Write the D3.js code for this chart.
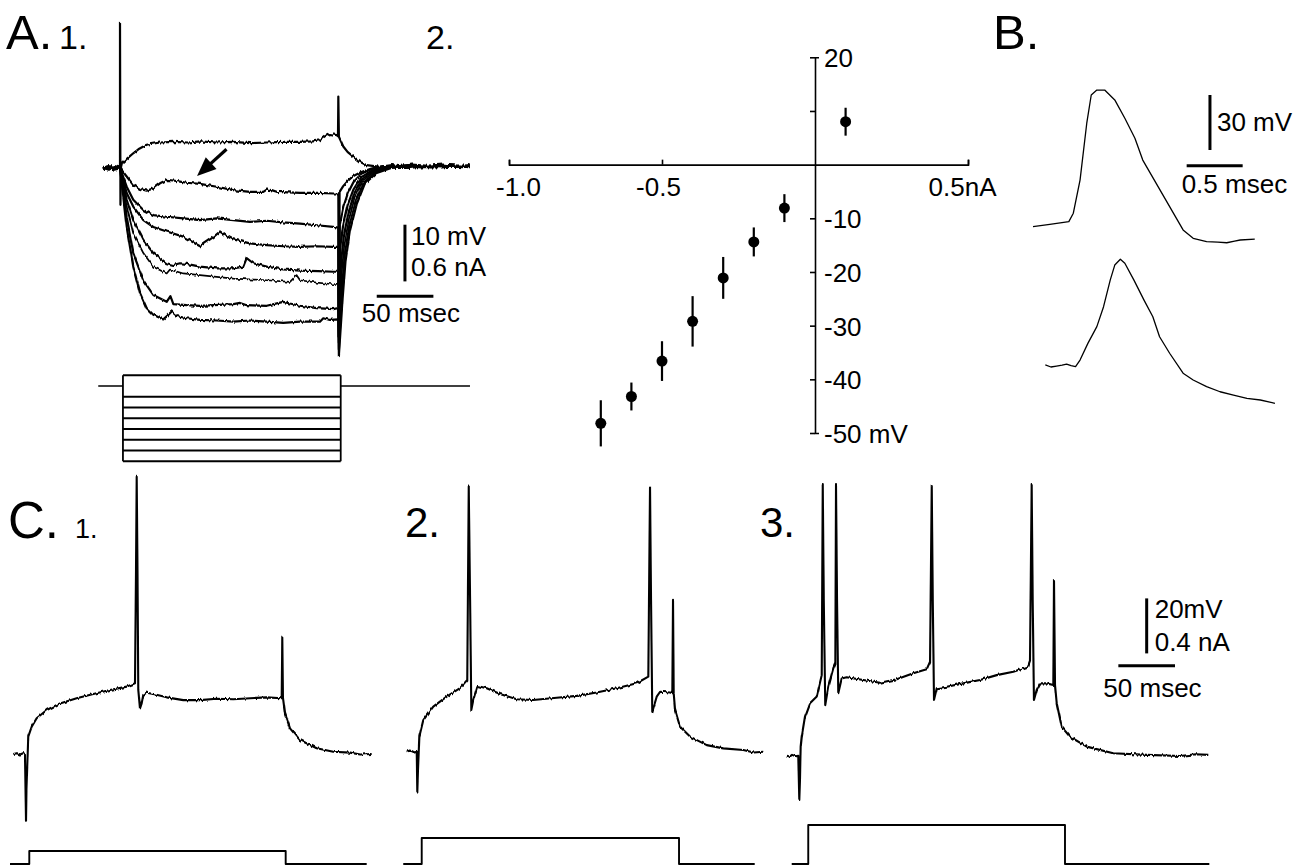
<!DOCTYPE html>
<html>
<head>
<meta charset="utf-8">
<script src="https://cdnjs.cloudflare.com/ajax/libs/d3/7.8.5/d3.min.js"></script>
<style>
  html, body { margin: 0; padding: 0; background: #fff; }
  svg { display: block; font-family: "Liberation Sans", Arial, sans-serif; }
  .trace { fill: none; stroke: #000; stroke-linejoin: round; }
</style>
</head>
<body>
<div id="fig"></div>
<script>
// ---------- A.1  voltage responses (ms, mV rel. rest) ----------
var aTop = [[-15,0],[-11,0.3],[-7,-0.2],[-3,0.2],[0,0],[0,25.6],[0.4,-6.5],[0.9,0],[1.8,0.8],[6,1.6],[11.7,2.6],[17,3.4],[23.5,4.1],[35.3,4.5],[47,4.6],[60,4.5],[70.6,4.7],[85,4.5],[99.7,4.6],[115,4.4],[129.5,4.5],[145,4.6],[158.9,4.6],[170,4.7],[176.5,4.9],[180.9,5.6],[185.3,6.0],[191.3,5.8],[192.4,5.6],[192.7,12.6],[193.2,5.5],[197.1,3.8],[201,2.8],[205.9,2.0],[211,1.2],[217.7,0.5],[229.5,0.2],[240,0.5],[247.1,0.3],[258,0.6],[270.7,0.4],[285,0.6],[297,0.3],[308.6,0.5]];
var aH1 = [[-15,-0.2],[-10,0.2],[-5,-0.3],[0,0],[5.9,-1.5],[11.7,-3.0],[17.7,-3.7],[23.6,-4.0],[29.4,-3.6],[35.3,-2.7],[41.2,-2.1],[47,-2.2],[52.9,-2.4],[58.8,-2.6],[70.6,-2.8],[85.4,-3.3],[100,-3.9],[114.8,-4.2],[126.5,-4.2],[129.5,-3.8],[133.9,-3.9],[138.3,-4.2],[158.9,-4.4],[175,-4.4],[188.3,-4.5],[192.7,-4.5],[193.2,-30],[193.8,-4.2],[197,-3.2],[201,-2.3],[206,-1.4],[213,-0.7],[222,-0.1],[232,0.3],[245,0.1],[260,0.4],[275,0.2],[290,0.5],[308.6,0.3]];
var aH2 = [[-15,0.2],[-9,-0.2],[-4,0.3],[0,0],[5.9,-3.3],[11.7,-5.6],[20.6,-7.4],[29.4,-8.3],[41.2,-8.6],[55.9,-8.9],[70.6,-9.2],[85.4,-8.9],[100,-9.2],[114.7,-9.5],[129.5,-9.3],[144.1,-9.6],[158.9,-9.8],[173.6,-10.1],[188.3,-10.4],[192.7,-10.5],[193.2,-30],[194,-10],[197,-7],[201,-4.5],[206,-2.5],[213,-1],[222,-0.2],[232,0.3],[246,0],[262,0.4],[278,0.1],[294,0.4],[308.6,0.2]];
var aH3 = [[-15,0],[-8,0.3],[-3,-0.2],[0,0],[5.9,-4.4],[11.7,-6.8],[20.6,-9.2],[29.4,-10.4],[41.2,-11.2],[55.9,-12.1],[70.6,-13.8],[76.5,-13.0],[82.4,-12.2],[88.2,-11.2],[94.1,-12.0],[100,-12.6],[114.7,-13.3],[129.5,-13.6],[144.1,-13.8],[158.9,-13.9],[173.6,-13.8],[188.3,-13.9],[192.7,-13.9],[193.2,-30],[194.5,-14],[197,-10],[201,-6.5],[206,-3.8],[213,-1.6],[222,-0.5],[234,0.2],[250,0.4],[266,0.1],[282,0.5],[298,0.2],[308.6,0.4]];
var aH4 = [[-15,0.1],[-10,-0.3],[-5,0.2],[0,0],[5.9,-5.6],[11.7,-9.2],[20.6,-12.7],[29.4,-15.0],[41.2,-16.8],[47.1,-17.1],[52.9,-16.8],[58.8,-16.9],[70.6,-17.4],[85.3,-17.7],[100,-17.7],[108.8,-17.4],[111.8,-15.9],[117.6,-16.8],[129.5,-17.4],[144.1,-17.9],[158.9,-18.1],[175,-18.2],[188.3,-18.3],[192.7,-18.3],[193.2,-31],[195,-17],[197.5,-12],[201.5,-8],[206.5,-4.6],[213.5,-2],[223,-0.6],[236,0.2],[252,0],[268,0.4],[284,0.1],[300,0.4],[308.6,0.1]];
var aH5 = [[-15,-0.2],[-9,0.2],[-4,-0.1],[0,0],[5.9,-6.8],[11.7,-11.5],[20.6,-15.0],[29.4,-17.4],[41.2,-18.6],[44.1,-17.9],[47.1,-18.1],[55.9,-18.6],[70.6,-18.9],[100,-19.5],[129.5,-19.8],[150,-20.1],[155.9,-18.9],[158.9,-19.8],[173.6,-20.2],[188.3,-20.5],[192.7,-20.4],[193.2,-31],[195.5,-19],[198,-13.5],[202,-9],[207,-5.2],[214,-2.3],[224,-0.7],[238,0.2],[254,0.5],[270,0.1],[286,0.4],[302,0.1],[308.6,0.3]];
var aH6 = [[-15,0.2],[-11,-0.1],[-6,0.3],[0,0],[5.9,-8.6],[11.7,-15.0],[20.6,-19.8],[29.4,-22.4],[41.2,-23.6],[44.5,-22.6],[47.1,-24.0],[58.8,-24.2],[70.6,-24.3],[100,-24.0],[105.9,-23.8],[111.8,-24.2],[129.5,-24.3],[144.1,-23.6],[150,-23.9],[158.9,-24.3],[173.6,-24.7],[188.3,-24.9],[192.7,-24.7],[193.2,-32],[196,-21],[198.5,-15],[202.5,-10],[208,-5.8],[215,-2.6],[225,-0.8],[240,0.2],[256,0],[272,0.4],[288,0.2],[308.6,0.3]];
var aH7 = [[-15,0],[-10,0.3],[-5,-0.2],[0,0],[5.9,-10.4],[11.7,-17.4],[17.7,-22.1],[23.5,-24.7],[29.4,-25.9],[38.2,-26.7],[42.6,-25.9],[45.6,-25.3],[50,-26.1],[58.8,-26.5],[70.6,-26.8],[85.3,-26.9],[100,-27.1],[114.7,-26.9],[129.4,-27.1],[144.1,-27.3],[158.9,-27.1],[176.5,-27.1],[179.4,-26.5],[185.3,-26.8],[192.7,-26.7],[193.2,-33],[196.5,-23],[199,-16.5],[203,-11],[209,-6.3],[216,-2.8],[226,-0.9],[242,0.2],[258,0.5],[274,0.1],[290,0.4],[308.6,0.2]];
var aTraces = [aTop, aH1, aH2, aH3, aH4, aH5, aH6, aH7];

// A.1 current steps (nA) and timing (ms)
var stimALevels = [0.1, -0.1, -0.2, -0.3, -0.4, -0.5, -0.6, -0.7];
var stimATimes = [-19.2, 2.6, 194.8, 308.9];
var arrowA = [[94, 3.3], [68, -1.4]];

// ---------- A.2  I-V relation ----------
var ivCurrent = [-0.7, -0.6, -0.5, -0.4, -0.3, -0.2, -0.1, 0.1];
var ivVoltage = [-48.2, -43.2, -36.6, -29.2, -21.1, -14.4, -8.1, 8.0];
var ivError   = [4.3, 2.6, 3.7, 4.7, 3.9, 2.7, 2.6, 2.6];
var ivXTicks = [-1.0, -0.5, 0.5];
var ivXLabels = ["-1.0", "-0.5", "0.5nA"];
var ivYTicks = [20, 10, -10, -20, -30, -40, -50];
var ivYLabels = ["20", "", "-10", "-20", "-30", "-40", "-50 mV"];

// ---------- B  spike waveforms (ms, mV) ----------
var bSpike1 = [[0,7.3],[0.15,8.5],[0.32,10.0],[0.36,14.6],[0.42,32.7],[0.48,63.7],[0.52,79.1],[0.57,81.8],[0.64,81.8],[0.73,76.4],[0.82,66.4],[0.91,55.5],[0.98,43.6],[1.10,30.9],[1.22,18.2],[1.34,5.5],[1.43,0.9],[1.55,-0.9],[1.65,-1.2],[1.73,-1.5],[1.80,-0.6],[1.85,0],[1.98,0.5]];
var bSpike2 = [[0.11,19.1],[0.16,18.0],[0.21,18.5],[0.26,19.0],[0.30,19.6],[0.34,18.7],[0.38,18.2],[0.42,21.8],[0.49,30.9],[0.57,40.0],[0.63,50.9],[0.69,65.5],[0.73,73.6],[0.78,76.8],[0.82,74.6],[0.90,65.5],[0.99,54.6],[1.07,45.4],[1.13,34.5],[1.22,25.5],[1.34,14.6],[1.43,10.9],[1.55,7.3],[1.67,4.5],[1.79,2.7],[1.91,0.9],[2.03,0],[2.16,-1.8]];

// ---------- C  spike trains (ms, mV) ----------
var c1Trace = [[-11.2,0],[-8,0.3],[-5.3,-0.2],[-2.5,0.3],[-0.9,0],[0,-24.3],[0.4,-13.1],[2.0,6.3],[5.0,9.9],[9.4,13.0],[18.3,16.0],[30.0,18.4],[44.7,20.3],[59.4,21.8],[74.1,23.3],[88.9,24.5],[96.2,25.7],[97.1,66.9],[97.7,100.8],[98.4,66.9],[99.1,23.3],[100.6,16.6],[102.1,18.4],[103.5,21.5],[106.5,22.3],[112.4,21.8],[124.2,20.6],[138.8,19.6],[153.6,19.6],[168,20.1],[183.0,19.9],[198,20.3],[212.4,20.6],[225.7,20.3],[226.2,42.7],[226.8,20.4],[228.6,14.8],[233.0,9.3],[241.8,5.1],[256.6,2.1],[271.2,0.8],[286.0,0.5],[295,-0.2],[305.1,0]];
var c2Trace = [[-9.4,0],[-7,0.4],[-4.7,0.2],[-2.5,-0.3],[-0.5,0],[0,-14.5],[0.6,-6.7],[1.8,5.5],[5.3,11.5],[14.1,16.4],[25.9,20.0],[37.7,23.1],[44.1,26.1],[45.4,96.4],[46.6,55.2],[47.7,15.2],[49.4,18.8],[53.0,23.9],[61.3,23.1],[73.0,21.0],[87.7,19.1],[102.4,18.8],[123.0,19.6],[140.7,20.3],[158.3,21.5],[176.0,23.1],[193.6,24.9],[203.9,27.3],[205.4,96.4],[206.3,55.2],[207.4,14.5],[211.3,20.0],[214.3,21.8],[223.1,21.5],[225.1,21.3],[225.7,55.2],[226.3,21.3],[227.5,15.2],[231.9,9.1],[240.7,5.5],[255.5,2.4],[270.1,1.2],[287.7,0.6],[297,-0.3],[305.4,0]];
var c3Trace = [[-11.1,0],[-8.5,-0.3],[-6.4,0.3],[-3,-0.2],[-0.9,0],[0,-16.1],[0.6,-8.8],[1.2,3.3],[2.1,6.9],[5.0,14.2],[9.4,19.1],[15.4,21.5],[19.8,29.3],[20.7,98.4],[21.6,56.6],[22.9,18.4],[25.6,25.1],[30.0,31.8],[31.8,33.6],[32.4,98.4],[33.3,56.6],[34.4,22.7],[37.4,28.1],[41.8,28.5],[56.5,27.5],[71.2,26.5],[86.0,27.8],[100.6,30.0],[112.4,31.4],[115.4,34.2],[116.9,98.4],[117.8,56.6],[118.9,20.3],[121.3,24.5],[130.1,25.1],[144.7,26.3],[159.5,27.5],[174.2,29.3],[188.9,30.5],[202.1,32.4],[203.6,34.2],[205.1,98.4],[206.0,56.6],[207.1,20.3],[209.5,23.9],[212.4,26.3],[218.4,26.3],[224.2,25.7],[224.8,63.9],[225.7,25.7],[227.2,19.1],[231.6,10.5],[238.9,6.9],[253.7,3.3],[277.1,0.9],[306.7,0.3],[336.0,-0.1],[350,0.5],[361.0,0.3]];
var cStimTimes = [[-14.1, 2.9, 229.2, 300.7], [-12.4, 3.9, 231.0, 297.8], [-6.7, 7.9, 234.5, 361.9]];
var cStimAmps = [0.1, 0.2, 0.3];

// scale bars (value, in each panel's own units)
var barA = {t: 251.5, v: [-10, -20], h: [226.6, 276.6], hv: -22.6};
var barB = {t: 1.58, v: [79.1, 49.1], h: [1.372, 1.872], hv: 40.5};
var barC = {t: 306.6, v: [57.2, 37.2], h: [281.6, 331.6], hv: 32.7};

// ---------- drawing ----------
var W = 1303, H = 867;
var svg = d3.select('#fig').append('svg').attr('width', W).attr('height', H);
svg.append('rect').attr('width', W).attr('height', H).attr('fill', '#fff');

// recording texture: small vertical jitter on the voltage traces
var flt = svg.append('defs').append('filter').attr('id', 'rec')
  .attr('filterUnits', 'userSpaceOnUse').attr('x', 0).attr('y', 0).attr('width', W).attr('height', H)
  .attr('color-interpolation-filters', 'sRGB');
flt.append('feTurbulence').attr('type', 'fractalNoise').attr('baseFrequency', '0.55 0.04')
  .attr('numOctaves', 1).attr('seed', 3).attr('result', 'n');
var ct = flt.append('feComponentTransfer').attr('in', 'n').attr('result', 'm');
ct.append('feFuncR').attr('type', 'linear').attr('slope', 0).attr('intercept', 0.5);
ct.append('feFuncA').attr('type', 'linear').attr('slope', 0).attr('intercept', 1);
flt.append('feDisplacementMap').attr('in', 'SourceGraphic').attr('in2', 'm')
  .attr('scale', 5).attr('xChannelSelector', 'R').attr('yChannelSelector', 'G');

function trace(g, data, x, y, w) {
  var line = d3.line().x(function (d) { return x(d[0]); }).y(function (d) { return y(d[1]); });
  return g.append('path').attr('class', 'trace').attr('d', line(data)).attr('stroke-width', w);
}
function seg(g, x1, y1, x2, y2, w) {
  return g.append('line').attr('x1', x1).attr('y1', y1).attr('x2', x2).attr('y2', y2)
    .attr('stroke', '#000').attr('stroke-width', w);
}
function label(txt, x, y, size, anchor) {
  return svg.append('text').attr('x', x).attr('y', y).attr('font-size', size)
    .attr('text-anchor', anchor || 'start').attr('fill', '#000').text(txt);
}

// panel letters
label('A.', 6, 49, 49); label('1.', 59, 49, 34); label('2.', 426, 49, 34);
label('B.', 993, 49, 49);
label('C.', 8, 538, 51); label('1.', 75, 538, 27);
label('2.', 405, 537, 42); label('3.', 760, 537, 42);

// ----- A.1 -----
var xA = d3.scaleLinear().domain([0, 100]).range([120, 233.3]);
var yA = d3.scaleLinear().domain([0, -10]).range([168, 224.7]);
var gA = svg.append('g');
var gAt = gA.append('g').attr('filter', 'url(#rec)');
aTraces.forEach(function (d, i) { trace(gAt, d, xA, yA, i === 5 ? 1.7 : 2.2); });

// arrow
var ax0 = xA(arrowA[0][0]), ay0 = yA(arrowA[0][1]), ax1 = xA(arrowA[1][0]), ay1 = yA(arrowA[1][1]);
var ang = Math.atan2(ay1 - ay0, ax1 - ax0);
seg(gA, ax0, ay0, ax1 - 12 * Math.cos(ang), ay1 - 12 * Math.sin(ang), 3.2);
gA.append('path').attr('fill', '#000')
  .attr('d', d3.line()([[ax1, ay1],
    [ax1 - 19 * Math.cos(ang) + 8 * Math.sin(ang), ay1 - 19 * Math.sin(ang) - 8 * Math.cos(ang)],
    [ax1 - 19 * Math.cos(ang) - 8 * Math.sin(ang), ay1 - 19 * Math.sin(ang) + 8 * Math.cos(ang)]]) + 'Z');

// current step protocol
var yStimA = d3.scaleLinear().domain([0, -0.1]).range([386, 396.75]);
var gS = svg.append('g');
seg(gS, xA(stimATimes[0]), yStimA(0), xA(stimATimes[1]), yStimA(0), 1.5);
seg(gS, xA(stimATimes[2]), yStimA(0), xA(stimATimes[3]), yStimA(0), 1.5);
stimALevels.forEach(function (l) { seg(gS, xA(stimATimes[1]), yStimA(l), xA(stimATimes[2]), yStimA(l), 1.8); });
var lmax = d3.max(stimALevels), lmin = d3.min(stimALevels);
seg(gS, xA(stimATimes[1]), yStimA(lmax), xA(stimATimes[1]), yStimA(lmin), 1.8);
seg(gS, xA(stimATimes[2]), yStimA(lmax), xA(stimATimes[2]), yStimA(lmin), 1.8);

// A scale bars
seg(gA, xA(barA.t), yA(barA.v[0]), xA(barA.t), yA(barA.v[1]), 3);
seg(gA, xA(barA.h[0]), yA(barA.hv), xA(barA.h[1]), yA(barA.hv), 3);
label('10 mV', xA(barA.t) + 6, yA(barA.v[0]) + 20, 26);
label('0.6 nA', xA(barA.t) + 6, yA(barA.v[1]) - 5, 26);
label('50 msec', xA(barA.h[0]) - 15, yA(barA.hv) + 26, 26);

// ----- A.2  I-V -----
var xIV = d3.scaleLinear().domain([-1, 0.5]).range([509, 968]);
var yIV = d3.scaleLinear().domain([-50, 20]).range([433, 57.3]);
var gIV = svg.append('g');
var xAxis = gIV.append('g').attr('transform', 'translate(0,' + yIV(0) + ')')
  .call(d3.axisBottom(xIV).tickValues(ivXTicks).tickSize(-5).tickSizeOuter(-5).tickPadding(13)
    .tickFormat(function (d, i) { return ivXLabels[i]; }));
var yAxis = gIV.append('g').attr('transform', 'translate(' + xIV(0) + ',0)')
  .call(d3.axisLeft(yIV).tickValues(ivYTicks).tickSize(5).tickSizeOuter(-4)
    .tickFormat(function (d, i) { return ivYLabels[i]; }));
[xAxis, yAxis].forEach(function (a) {
  a.selectAll('path, line').attr('stroke', '#000').attr('stroke-width', 1.6);
  a.selectAll('text').attr('font-size', 26).attr('font-family', '"Liberation Sans", Arial, sans-serif').attr('fill', '#000');
});
xAxis.selectAll('text').attr('dx', function (d) { return d === -1 ? 9 : (d === 0.5 ? -6 : -4); });
yAxis.selectAll('text').attr('x', 9).attr('text-anchor', 'start').attr('dy', '0.36em');
var ivPts = ivCurrent.map(function (c, i) { return {c: c, v: ivVoltage[i], e: ivError[i]}; });
gIV.selectAll('.eb').data(ivPts).enter().append('line')
  .attr('x1', function (d) { return xIV(d.c); }).attr('x2', function (d) { return xIV(d.c); })
  .attr('y1', function (d) { return yIV(d.v + d.e); }).attr('y2', function (d) { return yIV(d.v - d.e); })
  .attr('stroke', '#000').attr('stroke-width', 2.2);
gIV.selectAll('circle').data(ivPts).enter().append('circle')
  .attr('cx', function (d) { return xIV(d.c); }).attr('cy', function (d) { return yIV(d.v); })
  .attr('r', 5.5).attr('fill', '#000');

// ----- B -----
var xB = d3.scaleLinear().domain([0, 1]).range([1033, 1145]);
var yB1 = d3.scaleLinear().domain([0, 30]).range([240, 185]);
var yB2 = d3.scaleLinear().domain([0, 30]).range([400, 345]);
var gB = svg.append('g');
trace(gB, bSpike1, xB, yB1, 1.3);
trace(gB, bSpike2, xB, yB2, 1.3);
seg(gB, xB(barB.t), yB1(barB.v[0]), xB(barB.t), yB1(barB.v[1]), 3);
seg(gB, xB(barB.h[0]), yB1(barB.hv), xB(barB.h[1]), yB1(barB.hv), 3);
label('30 mV', xB(barB.t) + 7, yB1(barB.v[0]) + 36, 26);
label('0.5 msec', xB(barB.h[0]) - 5, yB1(barB.hv) + 27, 26);

// ----- C -----
var cTraces = [c1Trace, c2Trace, c3Trace];
var cOrigin = [26, 417.3, 799.3];
var cRest = [754, 751.7, 755.7];
var yStimC = d3.scaleLinear().domain([0, 0.1]).range([864, 851]);
var gC = svg.append('g');
var gCt = gC.append('g').attr('filter', 'url(#rec)');
var xC3, yC3;
cTraces.forEach(function (tr, i) {
  var x = d3.scaleLinear().domain([0, 100]).range([cOrigin[i], cOrigin[i] + 113.3]);
  var y = d3.scaleLinear().domain([0, 20]).range([cRest[i], cRest[i] - 55]);
  trace(gCt, tr, x, y, 2.1);
  var st = cStimTimes[i], a = cStimAmps[i];
  var sp = [[st[0], 0], [st[1], 0], [st[1], a], [st[2], a], [st[2], 0], [st[3], 0]];
  trace(gC, sp, x, yStimC, 1.9);
  if (i === 2) { xC3 = x; yC3 = y; }
});
seg(gC, xC3(barC.t), yC3(barC.v[0]), xC3(barC.t), yC3(barC.v[1]), 3);
seg(gC, xC3(barC.h[0]), yC3(barC.hv), xC3(barC.h[1]), yC3(barC.hv), 3);
label('20mV', xC3(barC.t) + 8, yC3(barC.v[0]) + 20, 26);
label('0.4 nA', xC3(barC.t) + 8, yC3(barC.v[1]) - 2, 26);
label('50 msec', xC3(barC.h[0]) - 15, yC3(barC.hv) + 31, 26);
</script>
</body>
</html>
